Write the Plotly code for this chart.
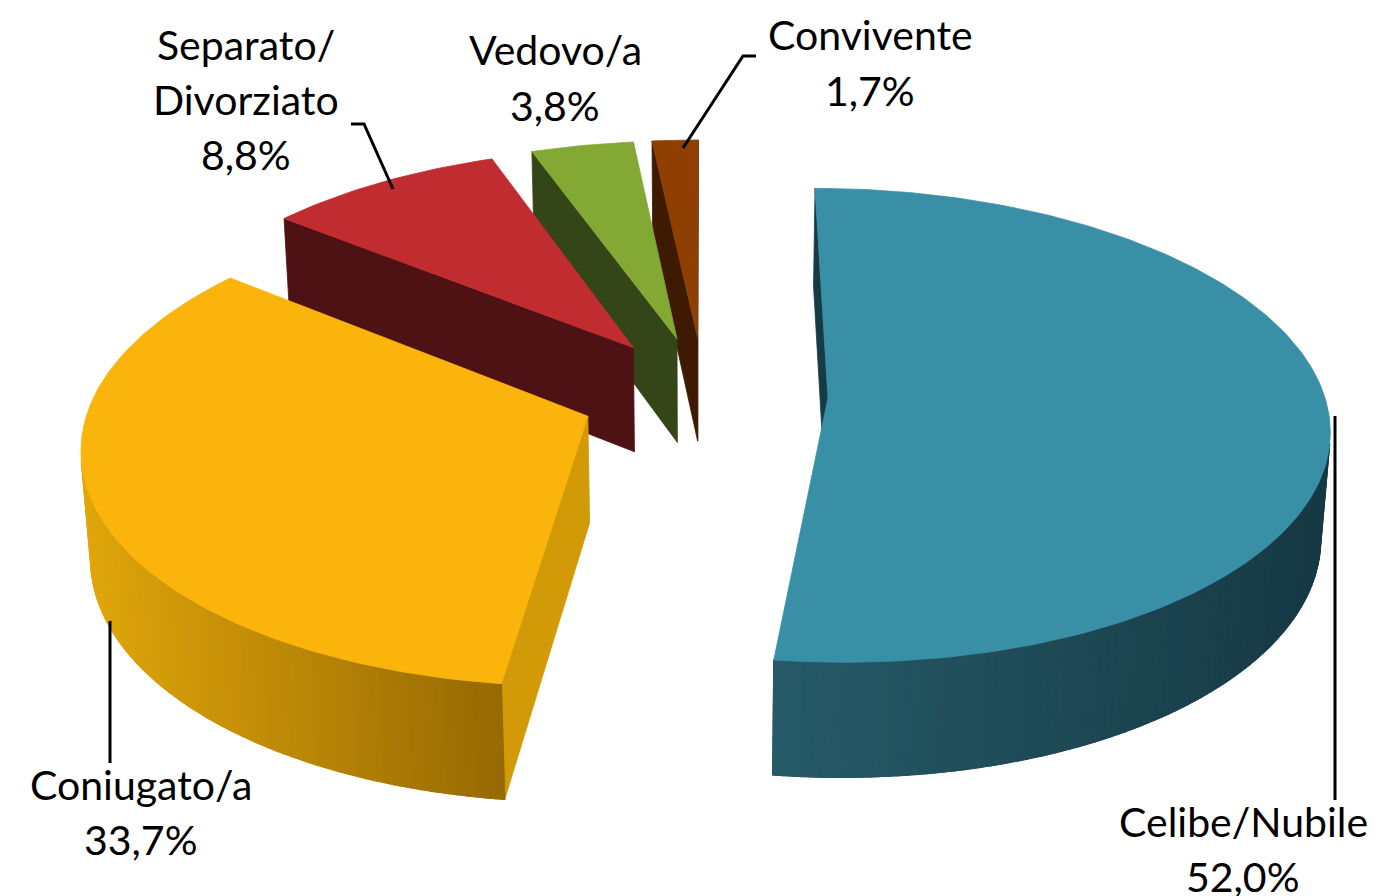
import numpy as np
import plotly.graph_objects as go

# ---------------- data ----------------
categories = ["Celibe/Nubile", "Coniugato/a", "Separato/<br>Divorziato", "Vedovo/a", "Convivente"]
values = [52.0, 33.7, 8.8, 3.8, 1.7]

# ---------------- styles ----------------
top_colors = ["#398FA6", "#FBB40B", "#C02C2F", "#83A834", "#8F3F02"]
side_light = ["#265A67", "#E0A60B", "#4E1114", "#344517", "#3E1A02"]
side_dark = ["#163944", "#976A03", "#4E1114", "#344517", "#3E1A02"]
radial_colors = ["#173B45", "#D29A07", "#4E1114", "#344517", "#3E1A02"]

# label placement (x centre, y of name line(s), y of percentage line)
label_x = [1235, 133, 238, 547, 862]
label_name_y = [[813], [776], [36, 91], [41], [26]]
label_pct_y = [868, 831, 146, 97, 82]
leaders = [
    "M 1327,408 L 1327,792",
    "M 102,613 L 102,755",
    "M 343,116 L 356,116 L 385,181",
    None,
    "M 748,48 L 735,48 L 675,140",
]

W, H = 1376, 896
CX, CY = 696.0, 386.0
F = 3760.0
D = 7.58
ELEV = np.radians(28)
S, C = np.sin(ELEV), np.cos(ELEV)
THICK = 0.245
EXPLODE = 0.25
START_DEG = 0.0
CAM = np.array([0.0, -D * C, D * S])
FONT = "Lato"
FSIZE = 41


def proj(X, Y, Z):
    X = np.asarray(X, float)
    Y = np.asarray(Y, float)
    Z = np.asarray(Z, float)
    depth = D + Y * C - Z * S
    up = Y * S + Z * C
    return CX + F * X / depth, CY - F * up / depth, depth


def hex2rgb(h):
    h = h.lstrip("#")
    return np.array([int(h[i:i + 2], 16) for i in (0, 2, 4)], float)


def mix(c1, c2, t):
    a, b = hex2rgb(c1), hex2rgb(c2)
    r = a + (b - a) * t
    return "rgb(%d,%d,%d)" % tuple(np.clip(np.round(r), 0, 255))


def facing(normal, point):
    return float(np.dot(normal, CAM - point)) > 0


total = sum(values)
fracs = np.array(values) / total
cum = np.concatenate([[0], np.cumsum(fracs)])

slices = []
for i, v in enumerate(values):
    a0 = np.radians(START_DEG + 360 * cum[i])
    a1 = np.radians(START_DEG + 360 * cum[i + 1])
    am = 0.5 * (a0 + a1)
    ox, oy = EXPLODE * np.sin(am), EXPLODE * np.cos(am)
    n = max(6, int(np.degrees(a1 - a0) / 1.0))
    th = np.linspace(a0, a1, n + 1)
    cen = np.array([ox + 0.5 * np.sin(am), oy + 0.5 * np.cos(am), 0])
    _, _, cdepth = proj(cen[0], cen[1], cen[2])
    slices.append(dict(i=i, a0=a0, a1=a1, ox=ox, oy=oy, th=th, depth=float(cdepth)))

order = sorted(slices, key=lambda s: -s["depth"])

fig = go.Figure()


def add_poly(xs, ys, color, name=None, hover=False, lw=0.8):
    xs = list(xs) + [xs[0]]
    ys = list(ys) + [ys[0]]
    fig.add_trace(go.Scatter(
        x=xs, y=ys, mode="lines", fill="toself", fillcolor=color,
        line=dict(color=color, width=lw), showlegend=False,
        hoverinfo="text" if hover else "skip",
        text=name if hover else None, hoveron="fills"))


for s in order:
    i, a0, a1, ox, oy, th = s["i"], s["a0"], s["a1"], s["ox"], s["oy"], s["th"]
    # radial faces
    for ang, nrm in ((a0, np.array([-np.cos(a0), np.sin(a0), 0])),
                     (a1, np.array([np.cos(a1), -np.sin(a1), 0]))):
        mid = np.array([ox + 0.5 * np.sin(ang), oy + 0.5 * np.cos(ang), -THICK / 2])
        if facing(nrm, mid):
            X = [ox, ox + np.sin(ang), ox + np.sin(ang), ox]
            Y = [oy, oy + np.cos(ang), oy + np.cos(ang), oy]
            Z = [0, 0, -THICK, -THICK]
            px, py, _ = proj(X, Y, Z)
            add_poly(px, py, radial_colors[i])
    # curved outer side (visible part)
    vis = []
    for j in range(len(th) - 1):
        tm = 0.5 * (th[j] + th[j + 1])
        nrm = np.array([np.sin(tm), np.cos(tm), 0])
        mid = np.array([ox + np.sin(tm), oy + np.cos(tm), -THICK / 2])
        vis.append(facing(nrm, mid))
    idx = [j for j, ok in enumerate(vis) if ok]
    if idx:
        # underlay in one piece to hide seams
        tt = th[idx[0]: idx[-1] + 2]
        X = np.concatenate([ox + np.sin(tt), ox + np.sin(tt[::-1])])
        Y = np.concatenate([oy + np.cos(tt), oy + np.cos(tt[::-1])])
        Z = np.concatenate([np.zeros(len(tt)), -THICK * np.ones(len(tt))])
        px, py, _ = proj(X, Y, Z)
        add_poly(px, py, mix(side_light[i], side_dark[i], 0.5))
        segs = []
        for j in idx:
            t0, t1 = th[j], th[j + 1]
            X = [ox + np.sin(t0), ox + np.sin(t1), ox + np.sin(t1), ox + np.sin(t0)]
            Y = [oy + np.cos(t0), oy + np.cos(t1), oy + np.cos(t1), oy + np.cos(t0)]
            Z = [0, 0, -THICK, -THICK]
            px, py, _ = proj(X, Y, Z)
            segs.append((px, py, float(np.mean(px))))
        xm = [sg[2] for sg in segs]
        lo, hi = min(xm), max(xm)
        for px, py, mx in segs:
            t = 0 if hi == lo else (mx - lo) / (hi - lo)
            add_poly(px, py, mix(side_light[i], side_dark[i], t), lw=1.2)
    # top face
    X = np.concatenate([[ox], ox + np.sin(th)])
    Y = np.concatenate([[oy], oy + np.cos(th)])
    Z = np.zeros_like(X)
    px, py, _ = proj(X, Y, Z)
    name = categories[i].replace("<br>", "") + ": " + ("%.1f" % values[i]).replace(".", ",") + "%"
    add_poly(px, py, top_colors[i], name=name, hover=True)

# labels and leader lines
annotations = []
shapes = []
for i, cat in enumerate(categories):
    pct = ("%.1f" % values[i]).replace(".", ",") + "%"
    lines = cat.split("<br>")
    for txt, yy in list(zip(lines, label_name_y[i])) + [(pct, label_pct_y[i])]:
        annotations.append(dict(
            x=label_x[i], y=yy, xref="x", yref="y", text=txt, showarrow=False,
            xanchor="center", yanchor="middle", align="center",
            font=dict(family=FONT, size=FSIZE, color="#000000")))
    if leaders[i]:
        shapes.append(dict(type="path", path=leaders[i], xref="x", yref="y",
                           line=dict(color="#000000", width=3)))

fig.update_layout(
    width=W, height=H, margin=dict(l=0, r=0, t=0, b=0),
    paper_bgcolor="white", plot_bgcolor="white",
    xaxis=dict(range=[0, W], visible=False, fixedrange=True),
    yaxis=dict(range=[H, 0], visible=False, fixedrange=True),
    annotations=annotations, shapes=shapes, showlegend=False,
)

fig.write_html("out.html")
